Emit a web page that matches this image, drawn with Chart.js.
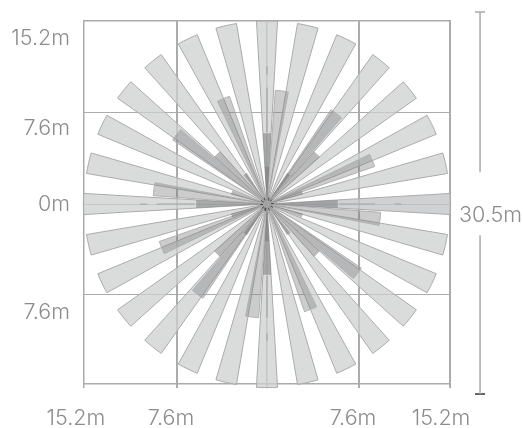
<!DOCTYPE html>
<html>
<head>
<meta charset="utf-8">
<script src="https://cdn.jsdelivr.net/npm/chart.js@4/dist/chart.umd.min.js"></script>
<style>
  html, body { margin: 0; padding: 0; background: #fff; }
  #wrap { width: 523px; height: 428px; }
</style>
</head>
<body>
<div id="wrap"><canvas id="coverageChart"></canvas></div>
<script>
// wedge directions in degrees clockwise from north, radii in metres
const lightAngles = [0, 12.9, 25.7, 38.6, 51.4, 64.3, 77.1, 90, 102.9, 115.7, 128.6, 141.4, 154.3, 167.1,
                     180, 192.9, 205.7, 218.6, 231.4, 244.3, 257.1, 270, 282.9, 295.7, 308.6, 321.4, 334.3, 347.1];
const lightRadii = [15.25, 15.25, 15.25, 15.25, 15.25, 15.25, 15.25, 15.3, 15.25, 15.25, 15.25, 15.25, 15.25, 15.25,
                    15.3, 15.25, 15.25, 15.25, 15.25, 15.25, 15.25, 15.3, 15.25, 15.25, 15.25, 15.25, 15.25, 15.25];
const midAngles = [7.5, 37.5, 67.5, 97.5, 127.5, 157.5, 187.5, 217.5, 247.5, 277.5, 307.5, 337.5];
const midRadii = [9.5, 9.5, 9.5, 9.5, 9.5, 9.5, 9.5, 9.5, 9.5, 9.5, 9.5, 9.5];
const darkAngles = [0, 45, 90, 135, 180, 225, 270, 315];
const darkRadii = [5.9, 5.9, 5.9, 5.9, 5.9, 5.9, 5.9, 5.9];
const darkestAngles = [0, 36, 72, 108, 144, 180, 216, 252, 288, 324];
const darkestRadii = [3.1, 3.1, 3.1, 3.1, 3.1, 3.1, 3.1, 3.1, 3.1, 3.1];
const wedgeWidth = 6.6;

// thin dashes along the four main directions: [direction, from, to]
const spokeDashes = [[0, 6, 9.7], [0, 10.8, 11.5], [90, 6, 9], [90, 10.6, 11.2],
                     [180, 6, 9.5], [180, 10.8, 11.4], [270, 6, 9.2], [270, 10, 10.6]];
const ringAngles = [15, 50, 85, 120, 160, 195, 230, 265, 300, 335];
const ringInner = 0.33;
const ringOuter = 0.58;

// grid positions and tick labels, metres from the centre
const gridX = [-15.27, -7.5, 0, 7.65, 15.22];
const gridY = [15.25, 7.64, 0, -7.52, -14.94];
const xTickValues = [-15.92, -8, 7.17, 14.5];
const xTickLabels = ['15.2m', '7.6m', '7.6m', '15.2m'];
const yTickValues = [13.82, 6.25, -0.08, -9.05];
const yTickLabels = ['15.2m', '7.6m', '0m', '7.6m'];
const spanTickValues = [-0.92];
const spanTickLabels = ['30.5m'];
const barX = 17.75;
const barCap = 0.42;
const barTop = [16, 2.65];
const barBottom = [-2.6, -15.83];

const lim = 15.33;
const textGrey = '#8c8c8c';
const labelFont = { family: 'Inter', size: 21.5, weight: '300' };

function wedges(angles, radii, fill, border, lineWidth, order) {
    const data = [];
    const sweep = [];
    let at = -10;
    angles.forEach((a, i) => {
        sweep.push(a - wedgeWidth / 2 - at);
        data.push(0);
        sweep.push(wedgeWidth);
        data.push(radii[i]);
        at = a + wedgeWidth / 2;
    });
    sweep.push(350 - at);
    data.push(0);
    return {
        data: data,
        order: order,
        angle: sweep,
        backgroundColor: ctx => ctx.dataIndex % 2 ? fill((ctx.dataIndex - 1) / 2) : 'rgba(0,0,0,0)',
        borderColor: border,
        borderWidth: ctx => ctx.dataIndex % 2 ? lineWidth : 0
    };
}

function polar(deg, r) {
    const t = deg * Math.PI / 180;
    return { x: r * Math.sin(t), y: r * Math.cos(t) };
}

function lineSet(points, color, width, order) {
    return {
        type: 'scatter',
        indexAxis: 'x', // the polarArea chart type sets 'r' for every dataset otherwise
        data: points,
        xAxisID: 'x',
        yAxisID: 'y',
        showLine: true,
        spanGaps: false,
        pointRadius: 0,
        borderColor: color,
        borderWidth: width,
        clip: false,
        order: order
    };
}

const gap = { x: null, y: null };
const spokePoints = [];
spokeDashes.forEach(d => {
    spokePoints.push(polar(d[0], d[1]), polar(d[0], d[2]), gap);
});
const ringPoints = [];
ringAngles.forEach(a => {
    ringPoints.push(polar(a, ringInner), polar(a, ringOuter), gap);
});
// caps run right to left: x is not sorted, so chart.js does not cut the off-scale points away
const barPoints = [
    { x: barX + barCap, y: barTop[0] }, { x: barX - barCap, y: barTop[0] }, gap,
    { x: barX, y: barTop[0] }, { x: barX, y: barTop[1] }, gap,
    { x: barX, y: barBottom[0] }, { x: barX, y: barBottom[1] }
];
const barFootPoints = [{ x: barX + barCap, y: barBottom[1] }, { x: barX - barCap, y: barBottom[1] }];

function fixedTicks(values) {
    return scale => { scale.ticks = values.map(v => ({ value: v })); };
}

// keep the plot square: no tick label overhang may push the chart area in
function setSize(axis, size) {
    return scale => {
        if (axis === 'x') scale.height = size; else scale.width = size;
        scale.paddingTop = scale.paddingBottom = scale.paddingLeft = scale.paddingRight = 0;
    };
}

function gridAxis(axis, position, values, widthAt) {
    return {
        type: 'linear',
        axis: axis,
        position: position,
        min: -lim,
        max: lim,
        afterBuildTicks: fixedTicks(values),
        afterFit: setSize(axis, 0),
        border: { display: false },
        ticks: { display: false },
        grid: { color: '#ababab', drawTicks: false, lineWidth: widthAt }
    };
}

function labelAxis(axis, position, values, labels, size, padding) {
    return {
        type: 'linear',
        axis: axis,
        position: position,
        min: -lim,
        max: lim,
        afterBuildTicks: fixedTicks(values),
        afterFit: setSize(axis, size),
        border: { display: false },
        grid: { display: false },
        ticks: {
            color: textGrey,
            font: labelFont,
            padding: padding,
            autoSkip: false,
            maxRotation: 0,
            callback: (v, i) => labels[i]
        }
    };
}

new Chart(document.getElementById('coverageChart'), {
    type: 'polarArea',
    data: {
        datasets: [
            wedges(lightAngles, lightRadii, i => i === 7 ? 'rgba(196,197,199,0.8)' : 'rgba(206,208,207,0.75)', '#ababab', 1, 6),
            wedges(midAngles, midRadii, () => 'rgba(128,128,130,0.4)', '#b0b0b0', 1, 5),
            wedges(darkAngles, darkRadii, () => 'rgba(118,118,120,0.5)', '#a0a0a0', 0, 4),
            wedges(darkestAngles, darkestRadii, () => 'rgba(118,118,120,0.5)', '#909090', 0, 3),
            lineSet(spokePoints, '#a3a3a3', 1.2, 2),
            lineSet(ringPoints, '#484848', 1, 1),
            lineSet(barPoints, '#ababab', 1.5, 2),
            lineSet(barFootPoints, '#333333', 1.5, 2)
        ]
    },
    options: {
        responsive: true,
        maintainAspectRatio: false,
        animation: false,
        layout: { padding: { top: 20 } },
        plugins: { legend: { display: false }, tooltip: { enabled: false } },
        scales: {
            r: {
                type: 'radialLinear',
                display: false,
                min: 0,
                max: lim,
                startAngle: -10
            },
            x: gridAxis('x', 'bottom', gridX, ctx => (ctx.index === 1 || ctx.index === 3 || ctx.index === 4) ? 2 : 1.5),
            y: gridAxis('y', 'left', gridY, ctx => (ctx.index === 0 || ctx.index === 4) ? 1.5 : 1),
            xLabels: labelAxis('x', 'bottom', xTickValues, xTickLabels, 40, 10),
            yLabels: labelAxis('y', 'left', yTickValues, yTickLabels, 83, 5),
            ySpan: labelAxis('y', 'right', spanTickValues, spanTickLabels, 72, 0)
        }
    }
});
</script>
</body>
</html>
